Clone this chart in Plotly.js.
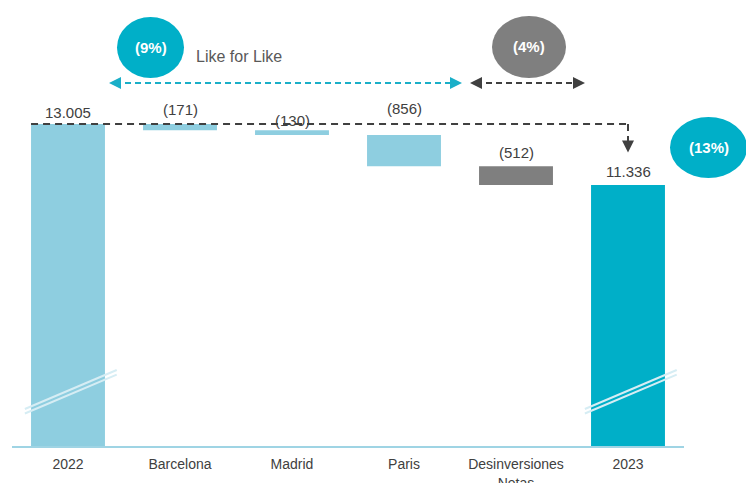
<!DOCTYPE html>
<html><head><meta charset="utf-8">
<script src="https://cdn.plot.ly/plotly-2.35.2.min.js"></script>
<style>html,body{margin:0;padding:0;background:#fff}#chart{width:746px;height:483px}</style>
</head><body><div id="chart"></div>
<script>
// ---- data ----
const categories = ['2022', 'Barcelona', 'Madrid', 'Paris', 'Desinversiones<br>Netas', '2023'];
const values = [13005, -171, -130, -856, -512, 11336];
const kinds = ['total', 'relative', 'relative', 'relative', 'relative', 'total'];
const groups = ['start', 'lfl', 'lfl', 'lfl', 'desinv', 'end'];
const pctLabels = { lfl: '(9%)', desinv: '(4%)', total: '(13%)' };
const bracketText = 'Like for Like';

// ---- styling ----
const colorMap = { start: '#8ECEE0', lfl: '#8ECEE0', desinv: '#7F7F7F', end: '#00AFC8' };
const W = 746, H = 483, ML = 12, MR = 62, MT = 10, MB = 37;
const PW = W - ML - MR, PH = H - MT - MB;
const px = x => (x - ML) / PW;
const py = y => (H - MB - y) / PH;
const FONT = 'Liberation Sans, Arial, sans-serif';

// compute waterfall bases
let running = 0;
const bases = [], heights = [], tops = [], labels = [];
const fmt = v => Math.abs(v).toString().replace(/\B(?=(\d{3})+(?!\d))/g, '.');
values.forEach((v, i) => {
  if (kinds[i] === 'total') {
    bases.push(0); heights.push(v); tops.push(v); running = v;
    labels.push(fmt(v));
  } else {
    const nb = running + v;
    bases.push(Math.min(running, nb)); heights.push(Math.abs(v));
    tops.push(Math.max(running, nb)); running = nb;
    labels.push(v < 0 ? '(' + fmt(v) + ')' : fmt(v));
  }
});
const xs = categories.map((c, i) => i);

const trace = {
  type: 'bar', x: xs, y: heights, base: bases, width: 0.66,
  marker: { color: groups.map(g => colorMap[g]) },
  hoverinfo: 'skip'
};

// y range chosen to emulate broken axis
const yMin = 4195, yMax = 16124;
const labelShift = [1, 4, -1, 16, 3, 3];
const annotations = labels.map((t, i) => ({
  x: i, y: tops[i], xref: 'x', yref: 'y', text: t, showarrow: false,
  xanchor: 'center', yanchor: 'bottom', yshift: labelShift[i],
  font: { family: FONT, size: 15, color: '#404040' }
}));

const circle = (x0, x1, y0, y1, col, txt) => {
  annotations.push({ xref: 'paper', yref: 'paper', x: px((x0 + x1) / 2), y: py((y0 + y1) / 2),
    xanchor: 'center', yanchor: 'middle',
    text: '<b>' + txt + '</b>', showarrow: false, font: { family: FONT, size: 15, color: '#ffffff' } });
  return { type: 'circle', xref: 'paper', yref: 'paper', x0: px(x0), x1: px(x1), y0: py(y1), y1: py(y0),
    fillcolor: col, line: { width: 0 }, layer: 'above' };
};

const shapes = [];
shapes.push(circle(117, 184, 17, 78, '#00AFC8', pctLabels.lfl));
shapes.push(circle(492, 566, 16, 78, '#7F7F7F', pctLabels.desinv));
shapes.push(circle(670, 747, 117, 178, '#00AFC8', pctLabels.total));

annotations.push({ xref: 'paper', yref: 'paper', x: px(194), y: py(56), xanchor: 'left', yanchor: 'middle',
  text: bracketText, showarrow: false, font: { family: FONT, size: 16, color: '#595959' } });

// dashed double arrows
const dArrow = (x0, x1, y, col) => {
  shapes.push({ type: 'line', xref: 'paper', yref: 'paper', x0: px(x0 + 6), x1: px(x1 - 6), y0: py(y), y1: py(y),
    line: { color: col, width: 2, dash: '6px,4px' } });
  [[x0, 1], [x1, -1]].forEach(([xx, d]) => {
    annotations.push({ xref: 'paper', yref: 'paper', x: px(xx), y: py(y), ax: d * 9, ay: 0,
      showarrow: true, arrowhead: 2, arrowsize: 1.2, arrowwidth: 2, arrowcolor: col, text: '', standoff: 0 });
  });
};
dArrow(109, 462, 83, '#1AAFC8');
dArrow(470, 585, 83, '#404040');

// horizontal dashed reference line at 2022 value, down arrow at 2023
shapes.push({ type: 'line', xref: 'x', yref: 'y', x0: -0.33, x1: 5, y0: tops[0], y1: tops[0],
  line: { color: '#404040', width: 2, dash: '7px,5px' } });
shapes.push({ type: 'line', xref: 'x', yref: 'y', x0: 5, x1: 5, y0: tops[0], y1: tops[0] - 480,
  line: { color: '#404040', width: 2, dash: '7px,5px' } });
annotations.push({ xref: 'x', yref: 'y', x: 5, y: tops[0] - 780, ax: 0, ay: -10, showarrow: true,
  arrowhead: 2, arrowsize: 1.2, arrowwidth: 2, arrowcolor: '#404040', text: '', standoff: 0 });

// break marks
const breakMark = (i) => {
  [0, -125].forEach(off => {
    shapes.push({ type: 'line', xref: 'x', yref: 'y', x0: i - 0.385, x1: i + 0.435,
      y0: 5208 + off, y1: 6275 + off, line: { color: '#D6EDF4', width: 2 } });
  });
};
breakMark(0); breakMark(5);

const layout = {
  width: W, height: H, margin: { l: ML, r: MR, t: MT, b: MB },
  paper_bgcolor: '#fff', plot_bgcolor: '#fff', showlegend: false,
  xaxis: { range: [-0.5, 5.5], tickmode: 'array', tickvals: xs, ticktext: categories,
    showline: true, linecolor: '#9FD4E4', linewidth: 1.5, showgrid: false, zeroline: false, ticks: '',
    ticklabelstandoff: 5,
    tickfont: { family: FONT, size: 14, color: '#404040' }, fixedrange: true },
  yaxis: { range: [yMin, yMax], visible: false, showgrid: false, zeroline: false, fixedrange: true },
  shapes, annotations, bargap: 0.34
};
Plotly.newPlot('chart', [trace], layout, { displayModeBar: false, staticPlot: true });
</script></body></html>
